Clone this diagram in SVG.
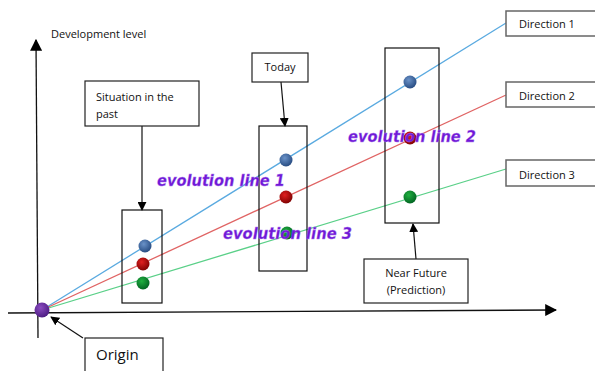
<svg xmlns="http://www.w3.org/2000/svg" width="595" height="371" viewBox="0 0 595 371">
<style>
.box{fill:#fff;stroke:#222;stroke-width:1.2}
.dbox{fill:#fff;stroke:#666;stroke-width:1.5}
.frame{fill:none;stroke:#111;stroke-width:1.2}
.t{font-family:"Open Sans","Liberation Sans",sans-serif;font-size:11px;fill:#111}
.evo{font-family:"DejaVu Sans",sans-serif;font-weight:bold;font-style:italic;font-size:16px;fill:#7019d6;stroke:#b080f0;stroke-width:0.3}
.ax{stroke:#111;stroke-width:1.3;fill:none}
.arr{stroke:#111;stroke-width:1.2;fill:none;marker-end:url(#ah)}
</style>
<defs>
<marker id="ah" viewBox="0 0 10 10" refX="9" refY="5" markerWidth="9" markerHeight="9" markerUnits="userSpaceOnUse" orient="auto"><path d="M0,0 L10,5 L0,10 z" fill="#000"/></marker>
<marker id="ah2" viewBox="0 0 10 10" refX="9" refY="5" markerWidth="12" markerHeight="12" markerUnits="userSpaceOnUse" orient="auto"><path d="M0,0 L10,5 L0,10 z" fill="#000"/></marker>
<radialGradient id="gb" cx="0.4" cy="0.35" r="0.7"><stop offset="0" stop-color="#6a92c8"/><stop offset="1" stop-color="#24487e"/></radialGradient>
<radialGradient id="gr" cx="0.4" cy="0.35" r="0.7"><stop offset="0" stop-color="#e02020"/><stop offset="1" stop-color="#7a0000"/></radialGradient>
<radialGradient id="gg" cx="0.4" cy="0.35" r="0.7"><stop offset="0" stop-color="#20b040"/><stop offset="1" stop-color="#006020"/></radialGradient>
<radialGradient id="gp" cx="0.4" cy="0.35" r="0.7"><stop offset="0" stop-color="#8a4cc0"/><stop offset="1" stop-color="#4a1a80"/></radialGradient>
</defs>
<g id="axes">
<line class="ax" x1="38" y1="338" x2="36" y2="40" style="marker-end:url(#ah2)"/>
<line class="ax" x1="8" y1="313" x2="556" y2="310" style="marker-end:url(#ah2)"/>
<text class="t" x="51" y="38">Development level</text>
</g>
<g id="connectors">
<line x1="42" y1="310" x2="506" y2="23" stroke="#5aaae0" stroke-width="1.3"/>
<line x1="42" y1="310" x2="506" y2="95" stroke="#e06464" stroke-width="1.3"/>
<line x1="42" y1="310" x2="506" y2="169" stroke="#5ad088" stroke-width="1.3"/>
<line class="arr" x1="142" y1="126" x2="142" y2="210"/>
<line class="arr" x1="281" y1="82" x2="285" y2="126"/>
<line class="arr" x1="416" y1="259" x2="413" y2="224"/>
<line class="arr" x1="83" y1="338" x2="51" y2="317"/>
</g>
<g id="frame-past"><rect class="frame" x="122" y="210" width="40" height="93"/></g>
<g id="frame-today"><rect class="frame" x="259" y="126" width="48" height="145"/></g>
<g id="frame-future"><rect class="frame" x="385" y="48" width="54" height="175"/></g>
<g id="dots">
<circle cx="145" cy="246" r="6.5" fill="url(#gb)"/>
<circle cx="143" cy="264" r="6.5" fill="url(#gr)"/>
<circle cx="143" cy="283" r="6.5" fill="url(#gg)"/>
<circle cx="286" cy="160" r="6.5" fill="url(#gb)"/>
<circle cx="286" cy="197" r="6.5" fill="url(#gr)"/>
<circle cx="287" cy="233" r="6.5" fill="url(#gg)"/>
<circle cx="410" cy="82" r="6.5" fill="url(#gb)"/>
<circle cx="410" cy="138" r="6.5" fill="url(#gr)"/>
<circle cx="410" cy="197" r="6.5" fill="url(#gg)"/>
</g>
<g id="origin-dot"><circle cx="42" cy="310" r="7.5" fill="url(#gp)"/></g>
<g id="situation"><rect class="box" x="85" y="81" width="114" height="45"/><text class="t" x="96" y="101">Situation in the</text><text class="t" x="96" y="118">past</text></g>
<g id="today"><rect class="box" x="252" y="53" width="56" height="29"/><text class="t" x="280" y="71" text-anchor="middle">Today</text></g>
<g id="future"><rect class="box" x="364" y="259" width="104" height="44"/><text class="t" x="416" y="277" text-anchor="middle">Near Future</text><text class="t" x="416" y="294" text-anchor="middle">(Prediction)</text></g>
<g id="origin"><rect class="box" x="85" y="338" width="78" height="40"/><text x="96" y="360" style="font-family:'Open Sans','Liberation Sans',sans-serif;font-size:15px;fill:#111">Origin</text></g>
<g id="dir1"><rect class="dbox" x="506" y="11" width="95" height="25"/><text class="t" x="519" y="28">Direction 1</text></g>
<g id="dir2"><rect class="dbox" x="506" y="82" width="95" height="25"/><text class="t" x="519" y="100">Direction 2</text></g>
<g id="dir3"><rect class="dbox" x="506" y="160" width="95" height="26"/><text class="t" x="519" y="179">Direction 3</text></g>
<g id="labels">
<text class="evo" x="157" y="186" textLength="128" lengthAdjust="spacingAndGlyphs">evolution line 1</text>
<text class="evo" x="348" y="142" textLength="128" lengthAdjust="spacingAndGlyphs">evolution line 2</text>
<text class="evo" x="223" y="239" textLength="129" lengthAdjust="spacingAndGlyphs">evolution line 3</text>
</g>
</svg>
